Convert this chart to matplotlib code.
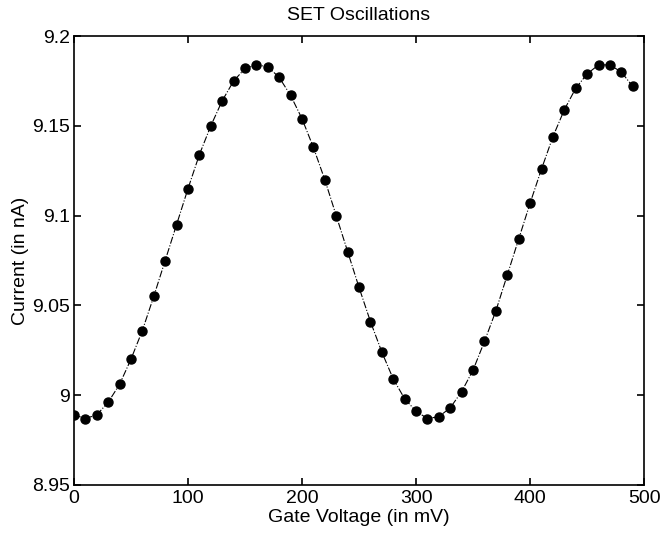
import numpy as np
import matplotlib.pyplot as plt
from matplotlib.ticker import FormatStrFormatter, FuncFormatter

plt.rcParams['font.family'] = ['Liberation Sans', 'DejaVu Sans']

# gate voltage (mV) and measured current (nA)
gate_mv = list(range(0, 500, 10))
current_na = [8.989, 8.987, 8.989, 8.996, 9.006, 9.020, 9.036, 9.055, 9.075, 9.095,
              9.115, 9.134, 9.150, 9.164, 9.175, 9.182, 9.184, 9.183, 9.177, 9.167,
              9.154, 9.138, 9.120, 9.100, 9.080, 9.060, 9.041, 9.024, 9.009, 8.998,
              8.991, 8.987, 8.988, 8.993, 9.002, 9.014, 9.030, 9.047, 9.067, 9.087,
              9.107, 9.126, 9.144, 9.159, 9.171, 9.179, 9.184, 9.184, 9.180, 9.172]

xticks = [0, 100, 200, 300, 400, 500]
yticks = [8.95, 9.0, 9.05, 9.1, 9.15, 9.2]

fig = plt.figure(figsize=(6.6, 5.4), dpi=100)
ax = fig.add_axes([0.112, 0.102, 0.864, 0.831])
ax.plot(gate_mv, current_na, color='black', linestyle='-.', linewidth=0.8,
        marker='o', markersize=6.5, markerfacecolor='black', markeredgecolor='black')

ax.set_xlim(0, 500)
ax.set_ylim(8.95, 9.2)
ax.set_xticks(xticks)
ax.set_yticks(yticks)
ax.yaxis.set_major_formatter(FuncFormatter(lambda v, p: '%g' % round(v, 3)))
ax.tick_params(direction='in', top=True, right=True, length=5, width=1.2, labelsize=14)
ax.tick_params(axis='x', pad=4)
ax.tick_params(axis='y', pad=3)
for s in ax.spines.values():
	s.set_linewidth(1.2)

ax.set_xlabel('Gate Voltage (in mV)', fontsize=14, labelpad=1)
ax.set_ylabel('Current (in nA)', fontsize=14, labelpad=2)
ax.set_title('SET Oscillations', fontsize=14, pad=12)

fig.savefig('out.png', dpi=100)
